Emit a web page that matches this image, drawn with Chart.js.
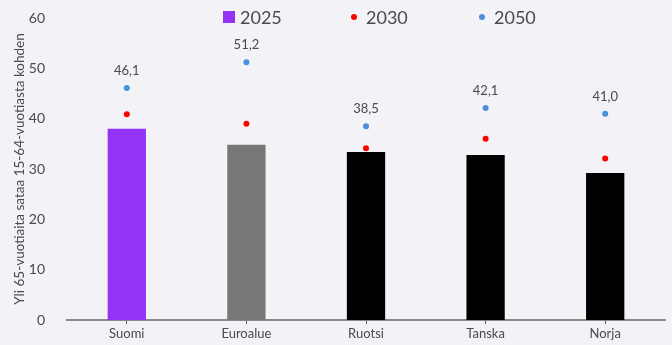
<!DOCTYPE html>
<html>
<head>
<meta charset="utf-8">
<script src="https://cdn.jsdelivr.net/npm/chart.js@4.4.1/dist/chart.umd.min.js"></script>
<style>
  html, body { margin: 0; padding: 0; background: #f2f2f7; }
  #wrap { width: 672px; height: 345px; position: relative; }
</style>
</head>
<body>
<div id="wrap"><canvas id="chart"></canvas></div>
<script>
const countries = ["Suomi", "Euroalue", "Ruotsi", "Tanska", "Norja"];
const values2025 = [38.0, 34.8, 33.4, 32.8, 29.2];
const values2030 = [40.9, 39.0, 34.1, 36.0, 32.1];
const values2050 = [46.1, 51.2, 38.5, 42.1, 41.0];
const barColors = ["#9333f5", "#777777", "#000000", "#000000", "#000000"];
const yTicks = [0, 10, 20, 30, 40, 50, 60];

const fontFamily = "Lato, 'Noto Sans', sans-serif";
const textColor = "#4a4a4a";

// legend drawn over the plot area, like in the original
const topLegend = {
  id: "topLegend",
  afterDraw(chart) {
    const ctx = chart.ctx;
    const xs = [223, 351, 479];
    const y = 17;
    ctx.save();
    ctx.font = "18px " + fontFamily;
    ctx.textBaseline = "middle";
    ctx.textAlign = "left";
    chart.data.datasets.forEach((ds, i) => {
      const x = xs[i];
      if (ds.type === "bar") {
        ctx.fillStyle = ds.backgroundColor[0];
        ctx.fillRect(x, y - 6, 12, 12);
        ctx.fillStyle = textColor;
        ctx.fillText(ds.label, x + 17, y + 1);
      } else {
        ctx.fillStyle = ds.pointBackgroundColor;
        ctx.beginPath();
        ctx.arc(x + 3, y, 3, 0, Math.PI * 2);
        ctx.fill();
        ctx.fillStyle = textColor;
        ctx.fillText(ds.label, x + 15, y + 1);
      }
    });
    ctx.restore();
  },
};

const pointLabels = {
  id: "pointLabels",
  afterDatasetsDraw(chart) {
    const ctx = chart.ctx;
    const idx = chart.data.datasets.findIndex((d) => d.label === "2050");
    const meta = chart.getDatasetMeta(idx);
    ctx.save();
    ctx.font = "13px " + fontFamily;
    ctx.fillStyle = textColor;
    ctx.textAlign = "center";
    ctx.textBaseline = "middle";
    meta.data.forEach((pt, i) => {
      const txt = values2050[i].toFixed(1).replace(".", ",");
      ctx.fillText(txt, pt.x, pt.y - 17);
    });
    ctx.restore();
  },
};

new Chart(document.getElementById("chart"), {
  type: "bar",
  data: {
    labels: countries,
    datasets: [
      {
        type: "bar",
        label: "2025",
        data: values2025,
        backgroundColor: barColors,
        categoryPercentage: 1,
        barPercentage: 0.32,
        order: 3,
      },
      {
        type: "line",
        label: "2030",
        data: values2030,
        showLine: false,
        pointRadius: 3,
        pointBorderWidth: 0,
        pointBackgroundColor: "#ff0000",
        pointBorderColor: "#ff0000",
        order: 1,
      },
      {
        type: "line",
        label: "2050",
        data: values2050,
        showLine: false,
        pointRadius: 3,
        pointBorderWidth: 0,
        pointBackgroundColor: "#4a90d9",
        pointBorderColor: "#4a90d9",
        order: 0,
      },
    ],
  },
  options: {
    responsive: true,
    maintainAspectRatio: false,
    animation: false,
    layout: { padding: { top: 0, right: 7, left: 0, bottom: 0 } },
    plugins: {
      legend: { display: false },
      tooltip: { enabled: false },
    },
    scales: {
      x: {
        grid: {
          display: true,
          drawOnChartArea: false,
          drawTicks: true,
          tickLength: 4,
          offset: false,
          color: "#555555",
        },
        border: { display: true, color: "#888888", width: 2 },
        ticks: {
          color: textColor,
          font: { family: fontFamily, size: 13 },
          padding: 2,
        },
        afterFit(scale) {
          scale.height = 25;
        },
      },
      y: {
        min: 0,
        max: 60,
        grid: { display: false },
        border: { display: false },
        afterBuildTicks(scale) {
          scale.ticks = yTicks.map((v) => ({ value: v }));
        },
        ticks: {
          color: textColor,
          font: { family: fontFamily, size: 14 },
          padding: 14,
        },
        title: {
          display: true,
          text: "Yli 65-vuotiaita sataa 15-64-vuotiasta kohden",
          color: textColor,
          font: { family: fontFamily, size: 13.5 },
          padding: { top: 12, bottom: 0 },
        },
        afterFit(scale) {
          scale.width = 67;
          scale.paddingTop = 18;
        },
      },
    },
  },
  plugins: [topLegend, pointLabels],
});
</script>
</body>
</html>
